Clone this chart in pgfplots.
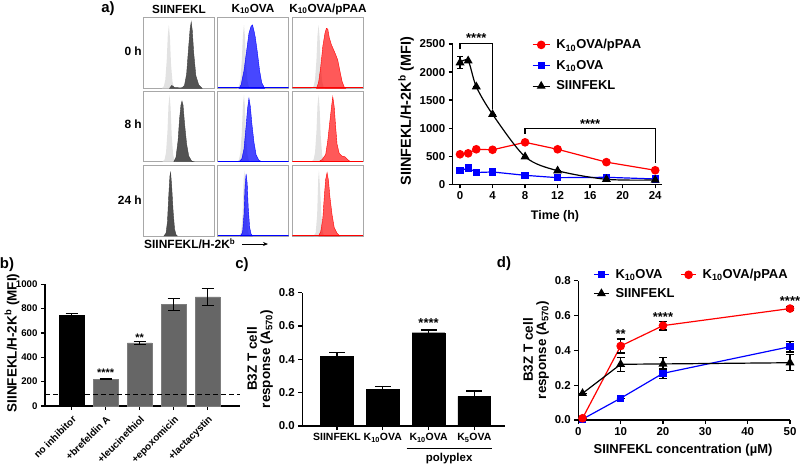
\documentclass[border=0pt]{standalone}
\usepackage{pgfplots}
\pgfplotsset{compat=1.18}
\usetikzlibrary{arrows.meta}
\usepackage{fontspec}
\setmainfont{Liberation Sans}
\definecolor{hgray}{HTML}{E2E2E2}
\definecolor{hdark}{HTML}{404040}
\definecolor{bgray}{HTML}{666666}
\definecolor{boxgray}{HTML}{A8A8A8}
\newcommand{\fs}[1]{\fontsize{#1}{#1}\selectfont\bfseries}
\pgfplotsset{
 hist/.style={scale only axis, width=71bp, height=70.5bp, xmin=0, xmax=100, ymin=0, ymax=100, ticks=none,
   axis line style={draw=boxgray, line width=1bp}, anchor=south west},
 gp/.style={scale only axis, axis lines=left, axis line style={-, line width=1.5bp}, tick align=outside,
   major tick length=4bp, tick style={line width=1.3bp, black}, /pgf/number format/assume math mode=true,
   tick label style={font=\fs{11.5}}, anchor=south west, clip=false, /pgf/number format/1000 sep={},
   xticklabel={\textbf{\pgfmathprintnumber{\tick}}}, yticklabel={\textbf{\pgfmathprintnumber{\tick}}}},
 eb/.style={error bars/.cd, y dir=both, y explicit, error bar style={black, line width=1.2bp},
   error mark options={rotate=90, black, mark size=#1, line width=1.2bp}},
}
\begin{document}
\begin{tikzpicture}
\useasboundingbox (0,0) rectangle (800bp,-464bp);
% ---------- panel a histograms ----------
% row 1
\begin{axis}[hist, at={(143.3bp,-88.3bp)}]
\addplot[fill=hgray, draw=none] coordinates {(26,0)(29,3)(31,12)(33,40)(34.5,75)(36,90)(37.5,72)(39,35)(41,10)(43,2)(45,0)} \closedcycle;
\addplot[fill=hdark, draw=hdark, fill opacity=0.9] coordinates {(37,0)(40,4)(42,3)(44,1)(48,1)(52,0.5)(55,1)(58,4)(61,20)(64,60)(66,85)(67.5,94)(69,82)(71,50)(74,18)(78,5)(83,0)} \closedcycle;
\end{axis}
\begin{axis}[hist, at={(217.7bp,-88.3bp)}]
\addplot[fill=hgray, draw=none] coordinates {(27,0)(30,3)(32,12)(34,40)(35.5,75)(37,90)(38.5,72)(40,35)(42,10)(44,2)(46,0)} \closedcycle;
\addplot[fill=blue, draw=blue, fill opacity=0.72] coordinates {(30,0)(33,5)(37,25)(41,55)(44,78)(47,88)(49,90)(51,82)(53,72)(56,50)(59,25)(62,8)(66,0)} \closedcycle;
\addplot[blue, line width=1bp] coordinates {(0,0.6)(100,0.6)};
\end{axis}
\begin{axis}[hist, at={(292.3bp,-88.3bp)}]
\addplot[fill=hgray, draw=none] coordinates {(27,0)(30,3)(32,12)(34,40)(35.5,75)(37,90)(38.5,72)(40,35)(42,10)(44,2)(46,0)} \closedcycle;
\addplot[fill=red, draw=red, fill opacity=0.65] coordinates {(34,0)(37,8)(40,30)(43,60)(46,78)(48,85)(50,84)(52,72)(55,62)(58,55)(61,48)(64,40)(67,25)(70,10)(73,2)(75,0)} \closedcycle;
\addplot[red, line width=1bp] coordinates {(0,0.6)(100,0.6)};
\end{axis}
% row 2
\begin{axis}[hist, at={(143.3bp,-161.7bp)}]
\addplot[fill=hgray, draw=none] coordinates {(27,0)(30,3)(32,13)(34,42)(35.5,80)(37,95)(38.5,76)(40,37)(42,10)(44,2)(46,0)} \closedcycle;
\addplot[fill=hdark, draw=hdark, fill opacity=0.9] coordinates {(43,0)(46,6)(49,30)(51,60)(53,80)(54.5,86)(56,80)(58,55)(61,25)(64,8)(68,1)(71,0)} \closedcycle;
\end{axis}
\begin{axis}[hist, at={(217.7bp,-161.7bp)}]
\addplot[fill=hgray, draw=none] coordinates {(27,0)(30,3)(32,13)(34,42)(35.5,80)(37,95)(38.5,76)(40,37)(42,10)(44,2)(46,0)} \closedcycle;
\addplot[fill=blue, draw=blue, fill opacity=0.72] coordinates {(30,0)(34,4)(37,18)(40,50)(42,75)(44,90)(46,78)(48,55)(51,28)(54,10)(58,2)(62,0)} \closedcycle;
\addplot[blue, line width=1bp] coordinates {(0,0.6)(100,0.6)};
\end{axis}
\begin{axis}[hist, at={(292.3bp,-161.7bp)}]
\addplot[fill=hgray, draw=none] coordinates {(27,0)(30,3)(32,13)(34,42)(35.5,80)(37,95)(38.5,76)(40,37)(42,10)(44,2)(46,0)} \closedcycle;
\addplot[fill=red, draw=red, fill opacity=0.65] coordinates {(37,0)(42,3)(47,10)(50,30)(53,58)(55.5,80)(57,92)(59,78)(61,50)(63,25)(66,12)(70,8)(74,7)(78,3)(82,0)} \closedcycle;
\addplot[red, line width=1bp] coordinates {(0,0.6)(100,0.6)};
\end{axis}
% row 3
\begin{axis}[hist, at={(143.3bp,-236bp)}]
\addplot[fill=hgray, draw=none] coordinates {(29,0)(32,3)(34,15)(36,55)(37.5,85)(38.5,92)(40,68)(42,30)(44,8)(46,1)(48,0)} \closedcycle;
\addplot[fill=hdark, draw=hdark, fill opacity=0.9] coordinates {(29,0)(32,4)(34,20)(36,60)(37.5,85)(38.5,90)(40,70)(42,35)(44,10)(46,2)(48,0)} \closedcycle;
\end{axis}
\begin{axis}[hist, at={(217.7bp,-236bp)}]
\addplot[fill=hgray, draw=none] coordinates {(30,0)(33,5)(35,30)(36.5,80)(37.5,93)(39,70)(41,30)(43,5)(45,0)} \closedcycle;
\addplot[fill=blue, draw=blue, fill opacity=0.72] coordinates {(32,0)(35,5)(37,30)(38.5,70)(40,88)(41.5,75)(43,40)(45,12)(47,3)(49,0)} \closedcycle;
\addplot[blue, line width=1bp] coordinates {(0,0.6)(100,0.6)};
\end{axis}
\begin{axis}[hist, at={(292.3bp,-236bp)}]
\addplot[fill=hgray, draw=none] coordinates {(30,0)(33,5)(35,30)(36.5,80)(37.5,93)(39,70)(41,30)(43,5)(45,0)} \closedcycle;
\addplot[fill=red, draw=red, fill opacity=0.65] coordinates {(37,0)(40,6)(43,25)(45,55)(47,80)(49,90)(51,78)(53,55)(56,30)(59,12)(63,4)(67,0)} \closedcycle;
\addplot[red, line width=1bp] coordinates {(0,0.6)(100,0.6)};
\end{axis}
% ---------- panel a time course ----------
\begin{axis}[gp, at={(452.7bp,-184.3bp)}, width=209bp, height=140.3bp,
  xmin=-0.9, xmax=24.8, ymin=0, ymax=2500, xtick={0,4,8,12,16,20,24}, ytick={0,500,1000,1500,2000,2500},
  legend style={draw=none, fill=none, font=\fs{13}, inner sep=0pt, row sep=8bp, column sep=5bp,
    at={(0.379,1.041)}, anchor=north west, nodes={inner sep=1bp}},
  legend cell align=left,
  legend image code/.code={\draw[mark repeat=2,mark phase=2,#1] plot coordinates {(0bp,0bp) (8.5bp,0bp) (17bp,0bp)};}]
\addplot[red, line width=1.2bp, mark=*, mark size=3.7bp, mark options={fill=red}] coordinates
  {(0,535)(1,552)(2,624)(4,615)(8,748)(12,624)(18,395)(24,250)};
\addlegendentry{K\textsubscript{10}OVA/pPAA}
\addplot[blue, line width=1.2bp, mark=square*, mark size=3bp, mark options={fill=blue}] coordinates
  {(0,243)(1,290)(2,210)(4,220)(8,160)(12,118)(18,125)(24,95)};
\addlegendentry{K\textsubscript{10}OVA}
\addplot[black, line width=1.2bp, smooth, tension=0.5, mark=triangle*, mark size=4bp, mark options={fill=black}, eb=3bp] coordinates
  {(0,2167) +- (0,110) (1,2202) +- (0,0) (2,1740) +- (0,0) (4,1247) +- (0,0) (8,492) +- (0,0) (12,242) +- (0,0) (18,89) +- (0,0) (24,77) +- (0,0)};
\addlegendentry{SIINFEKL}
\addplot[black, line width=1.2bp, forget plot] coordinates {(0,2405)(0,2510)(4,2510)(4,1340)};
\addplot[black, line width=1.2bp, forget plot] coordinates {(8,900)(8,1000)(24,1000)(24,374)};
\node[font=\fs{13}, yshift=-3bp] at (axis cs:2,2660) {****};
\node[font=\fs{13}, yshift=-3bp] at (axis cs:16,1133) {****};
\end{axis}
% ---------- panel b ----------
\begin{axis}[gp, at={(45bp,-406bp)}, width=195bp, height=121.7bp,
  xmin=-0.785, xmax=4.95, ymin=0, ymax=1000, ytick={0,200,400,600,800,1000}, xtick={0,1,2,3,4},
  xticklabels={no inhibitor,+brefeldin A,+leucinethiol,+epoxomicin,+lactacystin},
  xticklabel style={rotate=45, anchor=north east, font=\fs{10}}, yticklabel style={font=\fs{9.7}},
  bar width=24.5bp]
\addplot[ybar, bar shift=0pt, fill=black, draw=black, eb=6bp] coordinates {(0,745) +- (0,18)};
\addplot[ybar, bar shift=0pt, fill=bgray, draw=bgray!85, eb=6bp] coordinates {(1,220) +- (0,5) (2,519) +- (0,13) (3,835) +- (0,50) (4,896) +- (0,68)};
\addplot[black, line width=1.3bp, dash pattern=on 5bp off 3bp, forget plot] coordinates {(-0.785,95) (4.95,95)};
\node[font=\fs{11}, yshift=-3bp] at (axis cs:1,297) {****};
\node[font=\fs{11}, yshift=-3bp] at (axis cs:2,585) {**};
\end{axis}
% ---------- panel c ----------
\begin{axis}[gp, at={(302.3bp,-426bp)}, width=202.7bp, height=133.3bp,
  xmin=-0.758, xmax=3.67, ymin=0, ymax=0.8, ytick={0,0.2,0.4,0.6,0.8}, xtick={0,1,2,3},
  xticklabels={SIINFEKL,K\textsubscript{10}OVA,K\textsubscript{10}OVA,K\textsubscript{5}OVA},
  xticklabel style={font=\fs{10.5}},
  yticklabel style={/pgf/number format/.cd, fixed, fixed zerofill, precision=1},
  bar width=32.7bp]
\addplot[ybar, bar shift=0pt, fill=black, draw=black, eb=8bp] coordinates
  {(0,0.416) +- (0,0.026) (1,0.218) +- (0,0.018) (2,0.56) +- (0,0.016) (3,0.178) +- (0,0.032)};
\draw[line width=1.5bp] (axis cs:1.52,-0.134) -- (axis cs:3.38,-0.134);
\node[font=\fs{11.5}] at (axis cs:2.45,-0.195) {polyplex};
\node[font=\fs{13}, yshift=-3bp] at (axis cs:2,0.636) {****};
\end{axis}
% ---------- panel d ----------
\begin{axis}[gp, at={(578.3bp,-420bp)}, width=211.7bp, height=139.3bp,
  xmin=0, xmax=50, ymin=0, ymax=0.8, xtick={0,10,20,30,40,50}, ytick={0,0.2,0.4,0.6,0.8},
  yticklabel style={/pgf/number format/.cd, fixed, fixed zerofill, precision=1},
  legend columns=2,
  legend style={draw=none, fill=none, font=\fs{13}, inner sep=0pt, row sep=6bp, column sep=5bp,
    at={(0.07,1.09)}, anchor=north west, nodes={inner sep=1bp}},
  legend cell align=left,
  every even column/.append style={column sep=14bp},
  legend image code/.code={\draw[mark repeat=2,mark phase=2,#1] plot coordinates {(0bp,0bp) (7.5bp,0bp) (15bp,0bp)};}]
\addplot[blue, line width=1.2bp, mark=square*, mark size=3bp, mark options={fill=blue}, eb=4bp] coordinates
  {(1,0.005) +- (0,0) (10,0.125) +- (0,0) (20,0.268) +- (0,0.03) (50,0.421) +- (0,0.03)};
\addlegendentry{K\textsubscript{10}OVA}
\addplot[red, line width=1.2bp, mark=*, mark size=3.7bp, mark options={fill=red}, eb=4bp] coordinates
  {(1,0.01) +- (0,0) (10,0.425) +- (0,0.04) (20,0.542) +- (0,0.025) (50,0.64) +- (0,0.01)};
\addlegendentry{K\textsubscript{10}OVA/pPAA}
\addplot[black, line width=1.2bp, mark=triangle*, mark size=4bp, mark options={fill=black}, eb=4bp] coordinates
  {(1,0.153) +- (0,0) (10,0.32) +- (0,0.04) (20,0.322) +- (0,0.035) (50,0.329) +- (0,0.045)};
\addlegendentry{SIINFEKL}
\node[font=\fs{13}, yshift=-3bp] at (axis cs:10,0.511) {**};
\node[font=\fs{13}, yshift=-3bp] at (axis cs:20,0.607) {****};
\node[font=\fs{13}, yshift=-3bp] at (axis cs:50,0.699) {****};
\end{axis}
% ---------- text ----------
\node[font=\fs{15}] at (108bp,-8.5bp) {a)};
\node[font=\fs{15}] at (7bp,-265bp) {b)};
\node[font=\fs{15}] at (242bp,-265bp) {c)};
\node[font=\fs{15}] at (504bp,-264bp) {d)};
\node[font=\fs{11.8}] at (179bp,-9bp) {SIINFEKL};
\node[font=\fs{11.8}] at (253bp,-9bp) {K\textsubscript{10}OVA};
\node[font=\fs{11.8}] at (328bp,-9bp) {K\textsubscript{10}OVA/pPAA};
\node[font=\fs{12}, anchor=east, inner sep=0pt] at (142bp,-51bp) {0 h};
\node[font=\fs{12}, anchor=east, inner sep=0pt] at (142bp,-124bp) {8 h};
\node[font=\fs{12}, anchor=east, inner sep=0pt] at (142bp,-200bp) {24 h};
\node[font=\fs{12}, anchor=west, inner sep=0pt] at (144bp,-244bp) {SIINFEKL/H-2K\textsuperscript{b}};
\draw[line width=0.8bp, -{Stealth[length=5bp, width=4bp]}] (242bp,-244bp) -- (268bp,-244bp);
\node[font=\fs{14.5}, rotate=90] at (406bp,-111bp) {SIINFEKL/H-2K\textsuperscript{b} (MFI)};
\node[font=\fs{12.5}] at (555bp,-216bp) {Time (h)};
\node[font=\fs{13.5}, rotate=90] at (12bp,-343bp) {SIINFEKL/H-2K\textsuperscript{b} (MFI)};
\node[font=\fs{13.5}, rotate=90, align=center] at (260bp,-359bp) {B3Z T cell\\response (A\textsubscript{570})};
\node[font=\fs{13.5}, rotate=90, align=center] at (536bp,-350bp) {B3Z T cell\\response (A\textsubscript{570})};
\node[font=\fs{13}] at (683bp,-450bp) {SIINFEKL concentration (µM)};
\end{tikzpicture}
\end{document}
